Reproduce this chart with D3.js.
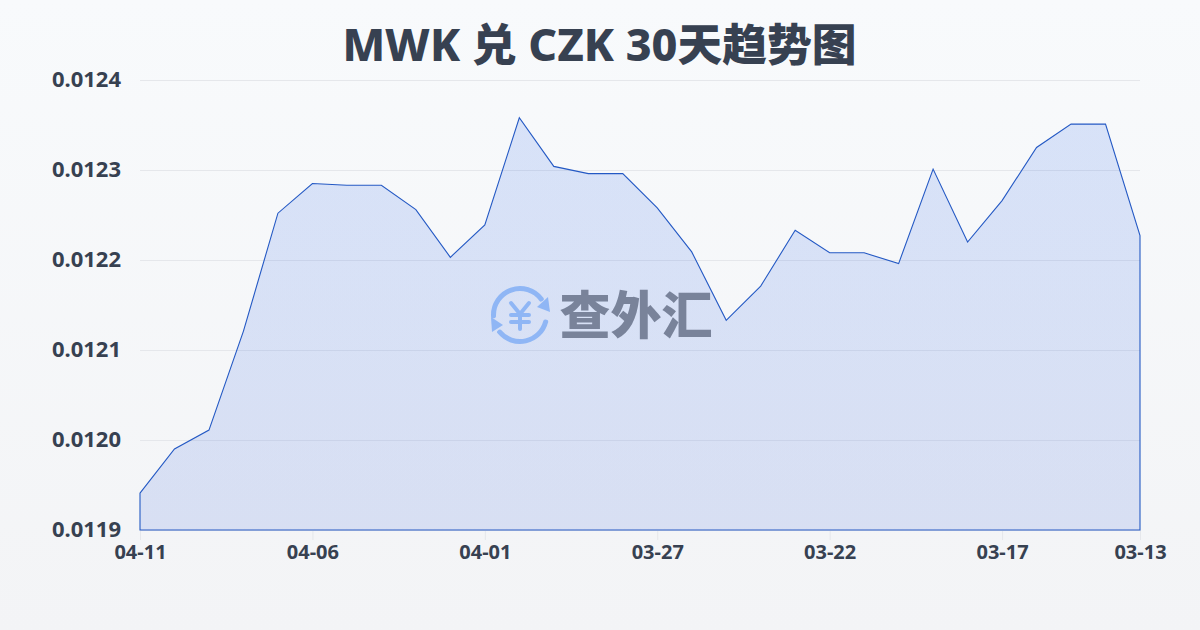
<!DOCTYPE html>
<html><head><meta charset="utf-8">
<script src="https://cdnjs.cloudflare.com/ajax/libs/d3/7.8.5/d3.min.js"></script>
<style>html,body{margin:0;padding:0;width:1200px;height:630px;overflow:hidden}
text{font-family:"Noto Sans","Noto Sans CJK SC",sans-serif}</style></head>
<body><svg id="c" width="1200" height="630"></svg>
<script>
const titleText = "MWK 兑 CZK 30天趋势图";
const dates = ["04-11","04-10","04-09","04-08","04-07","04-06","04-05","04-04","04-03","04-02","04-01","03-31","03-30","03-29","03-28","03-27","03-26","03-25","03-24","03-23","03-22","03-21","03-20","03-19","03-18","03-17","03-16","03-15","03-14","03-13"];
const rates = [0.011941,0.01199,0.012011,0.012121,0.012252,0.012285,0.012283,0.012283,0.012256,0.012203,0.012239,0.012358,0.012304,0.012296,0.012296,0.012258,0.012209,0.012133,0.012171,0.012233,0.012208,0.012208,0.012196,0.012301,0.01222,0.012266,0.012325,0.012351,0.012351,0.012227];
const yTicks = [0.0119,0.012,0.0121,0.0122,0.0123,0.0124];
const xTicks = ["04-11","04-06","04-01","03-27","03-22","03-17","03-13"];
const font = '"Noto Sans","Noto Sans CJK SC",sans-serif';
const svg = d3.select("#c");
const defs = svg.append("defs");
const bg = defs.append("linearGradient").attr("id","bg").attr("x1",0).attr("y1",0).attr("x2",0).attr("y2",1);
bg.append("stop").attr("offset",0).attr("stop-color","#f8fafc");
bg.append("stop").attr("offset",1).attr("stop-color","#f3f4f6");
const ag = defs.append("linearGradient").attr("id","ag").attr("gradientUnits","userSpaceOnUse").attr("x1",0).attr("y1",80).attr("x2",0).attr("y2",530);
ag.append("stop").attr("offset",0).attr("stop-color","#2563eb").attr("stop-opacity",0.15);
ag.append("stop").attr("offset",1).attr("stop-color","#1d4ed8").attr("stop-opacity",0.13);
svg.append("rect").attr("width",1200).attr("height",630).attr("fill","url(#bg)");
const x = d3.scalePoint().domain(dates).range([140,1140]);
const y = d3.scaleLinear().domain([0.0119,0.0124]).range([530,80]);
svg.append("text").attr("x",599.5).attr("y",61).attr("text-anchor","middle").attr("font-size",44.8).attr("font-weight",800).attr("fill","#374151").text(titleText);
const gy = svg.append("g").attr("transform","translate(140,0)").call(d3.axisLeft(y).tickValues(yTicks).tickSize(0).tickPadding(19).tickFormat(d3.format(".4f")));
gy.select(".domain").remove();
gy.selectAll("text").attr("font-size",22).attr("font-weight",700).attr("fill","#374151").attr("dy","0.28em").style("font-family",font);
gy.selectAll("line").attr("x2",1000).attr("stroke","#e5e7eb").attr("stroke-width",1);
const gx = svg.append("g").attr("transform","translate(0,530)").call(d3.axisBottom(x).tickValues(xTicks).tickSize(10).tickPadding(5));
gx.select(".domain").remove();
gx.selectAll("line").attr("stroke","#e5e7eb");
gx.selectAll("text").attr("font-size",20).attr("font-weight",700).attr("fill","#374151").style("font-family",font);
const area = d3.area().x((d,i)=>x(dates[i])).y0(y(0.0119)).y1(d=>y(d));
svg.append("path").datum(rates).attr("d",area).attr("fill","url(#ag)").attr("stroke","#2459c4").attr("stroke-width",1.1);
// watermark
const wm = svg.append("g");
const cx=520, cy=315, blue="#8fb6f5";
const arc = d3.arc().innerRadius(24).outerRadius(29).cornerRadius(2);
const rad = Math.PI/180;
[[-97,58],[100,235]].forEach(([a,b])=>{
  wm.append("path").attr("transform",`translate(${cx},${cy})`).attr("d",arc({startAngle:a*rad,endAngle:b*rad})).attr("fill",blue);
});
wm.append("path").attr("d","M550 312L537 307L548 297Z").attr("fill",blue);
wm.append("path").attr("d","M491 317L503 325L492 332Z").attr("fill",blue);
wm.append("path").attr("d","M511 303L520 314L529 303M520 314V329M511 315H529M511 322H529").attr("fill","none").attr("stroke",blue).attr("stroke-width",4).attr("stroke-linecap","round").attr("stroke-linejoin","round");
wm.append("text").attr("x",636).attr("y",334).attr("text-anchor","middle").attr("font-size",51).attr("font-weight",900).attr("fill","#79839a").style("font-family",'"Noto Sans CJK SC"').text("查外汇");
</script></body></html>
